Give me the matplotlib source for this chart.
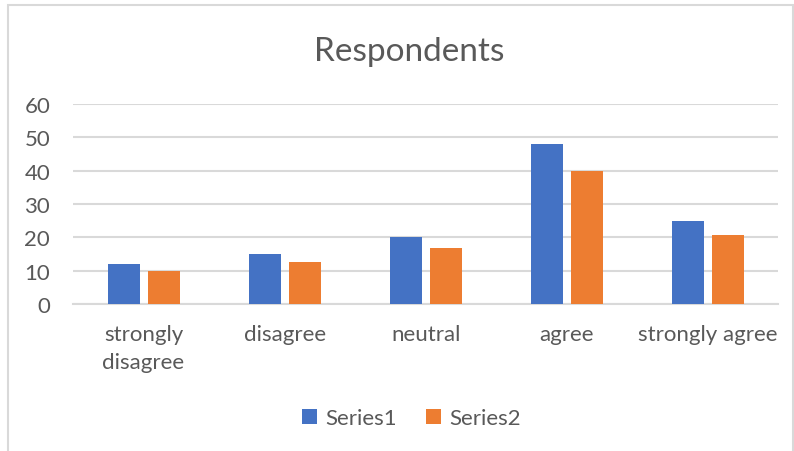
import numpy as np
import matplotlib.pyplot as plt
from matplotlib.patches import Rectangle

categories = ['strongly\ndisagree', 'disagree', 'neutral', 'agree', 'strongly agree']
series1 = [12, 15, 20, 48, 25]
series2 = [10, 12.5, 16.67, 40, 20.83]
yticks = [0, 10, 20, 30, 40, 50, 60]

plt.rcParams['font.family'] = ['Lato', 'DejaVu Sans']
text_col = '#595959'
grid_col = '#d9d9d9'

fig = plt.figure(figsize=(7.94, 4.52), dpi=100)
ax = fig.add_axes([0.092, 0.325, 0.888, 0.443])

# outer chart border (light grey)
fig.patches.append(Rectangle((8 / 794, -0.05), 785 / 794, 1.05 - 6 / 452,
                             transform=fig.transFigure, fill=False,
                             edgecolor=grid_col, linewidth=1.5))

x = np.arange(len(categories))
w = 0.227
gap = 0.057
ax.bar(x - (w + gap) / 2, series1, w, color='#4472c4', label='Series1', zorder=3)
ax.bar(x + (w + gap) / 2, series2, w, color='#ed7d31', label='Series2', zorder=3)

ax.set_xlim(-0.5, len(categories) - 0.5)
ax.set_ylim(0, 60)
ax.set_yticks(yticks)
ax.set_xticks(x)
ax.set_xticklabels(categories, linespacing=1.5)
ax.yaxis.grid(True, color=grid_col, linewidth=1.5, zorder=0)
for side in ['top', 'right', 'left']:
    ax.spines[side].set_visible(False)
ax.spines['bottom'].set_color(grid_col)
ax.spines['bottom'].set_linewidth(1.5)
ax.tick_params(axis='both', length=0, labelsize=16, labelcolor=text_col)
ax.tick_params(axis='y', pad=16.5)
ax.tick_params(axis='x', pad=14)

fig.text(0.515, 0.885, 'Respondents', ha='center', va='center',
         fontsize=24, color=text_col)

fig.legend(loc='center', bbox_to_anchor=(0.518, 0.072), ncol=2, frameon=False,
           fontsize=16, labelcolor=text_col, handlelength=0.7, handleheight=0.7,
           handletextpad=0.35, columnspacing=1.3)

fig.savefig('out.png', dpi=100)
